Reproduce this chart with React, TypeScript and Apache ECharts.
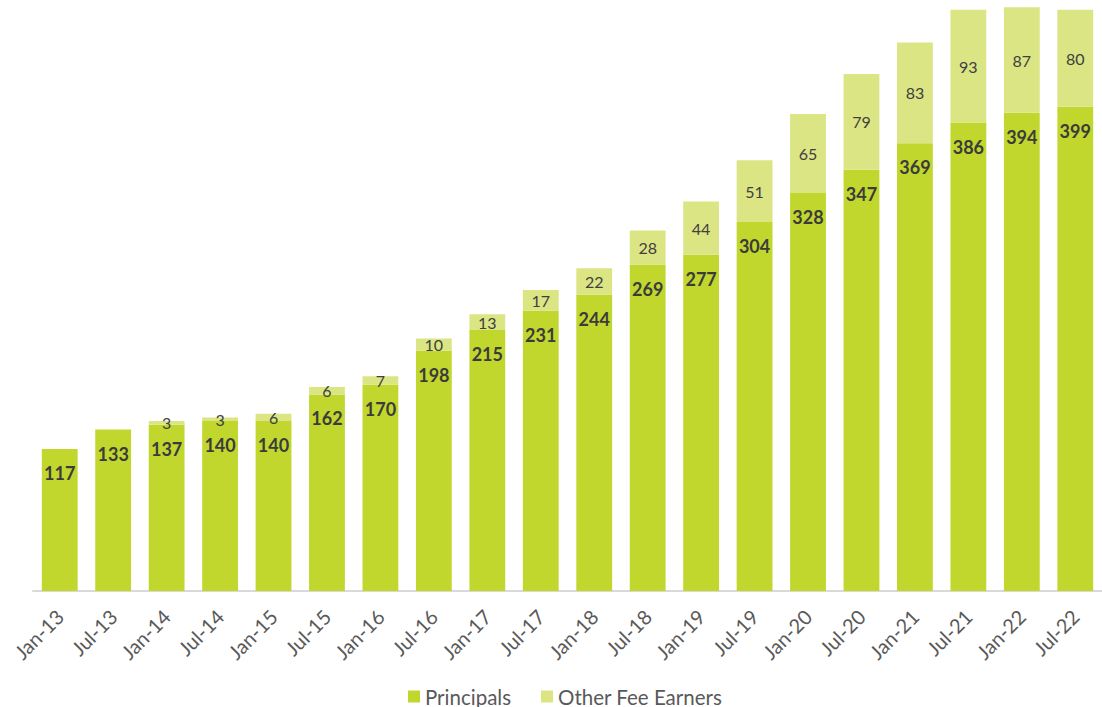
import React, { useEffect, useRef } from "react";
import * as echarts from "echarts";

const categories = ["Jan-13","Jul-13","Jan-14","Jul-14","Jan-15","Jul-15","Jan-16","Jul-16","Jan-17","Jul-17","Jan-18","Jul-18","Jan-19","Jul-19","Jan-20","Jul-20","Jan-21","Jul-21","Jan-22","Jul-22"];
const principals = [117,133,137,140,140,162,170,198,215,231,244,269,277,304,328,347,369,386,394,399];
const otherFeeEarners: (number | null)[] = [null,null,3,3,6,6,7,10,13,17,22,28,44,51,65,79,83,93,87,80];

const FONT = "Lato, 'Noto Sans', sans-serif";

export default function App() {
  const ref = useRef<HTMLDivElement>(null);
  useEffect(() => {
    if (!ref.current) return;
    const chart = echarts.init(ref.current, undefined, { renderer: "svg" });
    chart.setOption({
      animation: false,
      textStyle: { fontFamily: FONT },
      grid: { left: 33, right: 0, top: 6, bottom: 116, containLabel: false },
      legend: {
        left: 403,
        top: 681,
        itemWidth: 12,
        itemHeight: 12,
        itemGap: 30,
        icon: "rect",
        textStyle: { fontSize: 20.5, lineHeight: 20, color: "#595959", fontFamily: FONT },
        data: ["Principals", "Other Fee Earners"],
      },
      xAxis: {
        type: "category",
        data: categories,
        axisLine: { lineStyle: { color: "#d9d9d9", width: 2 } },
        axisTick: { show: false },
        axisLabel: { rotate: 45, fontSize: 20, color: "#595959", margin: 22, fontFamily: FONT },
      },
      yAxis: {
        type: "value",
        min: 0,
        max: 482,
        show: false,
        splitLine: { show: false },
      },
      series: [
        {
          name: "Principals",
          type: "bar",
          stack: "total",
          data: principals,
          barWidth: "67%",
          itemStyle: { color: "#c1d72e" },
          label: {
            show: true,
            position: "insideTop",
            distance: 15,
            fontSize: 18,
            fontWeight: "bold",
            color: "#3b3b3b",
            fontFamily: FONT,
          },
        },
        {
          name: "Other Fee Earners",
          type: "bar",
          stack: "total",
          data: otherFeeEarners,
          barWidth: "67%",
          itemStyle: { color: "#dbe583" },
          label: {
            show: true,
            position: "inside",
            fontSize: 16,
            color: "#404040",
            fontFamily: FONT,
          },
        },
      ],
    });
    return () => chart.dispose();
  }, []);
  return (
    <div
      ref={ref}
      style={{ position: "fixed", left: 0, top: 0, width: 1102, height: 707, background: "#fff" }}
    />
  );
}
